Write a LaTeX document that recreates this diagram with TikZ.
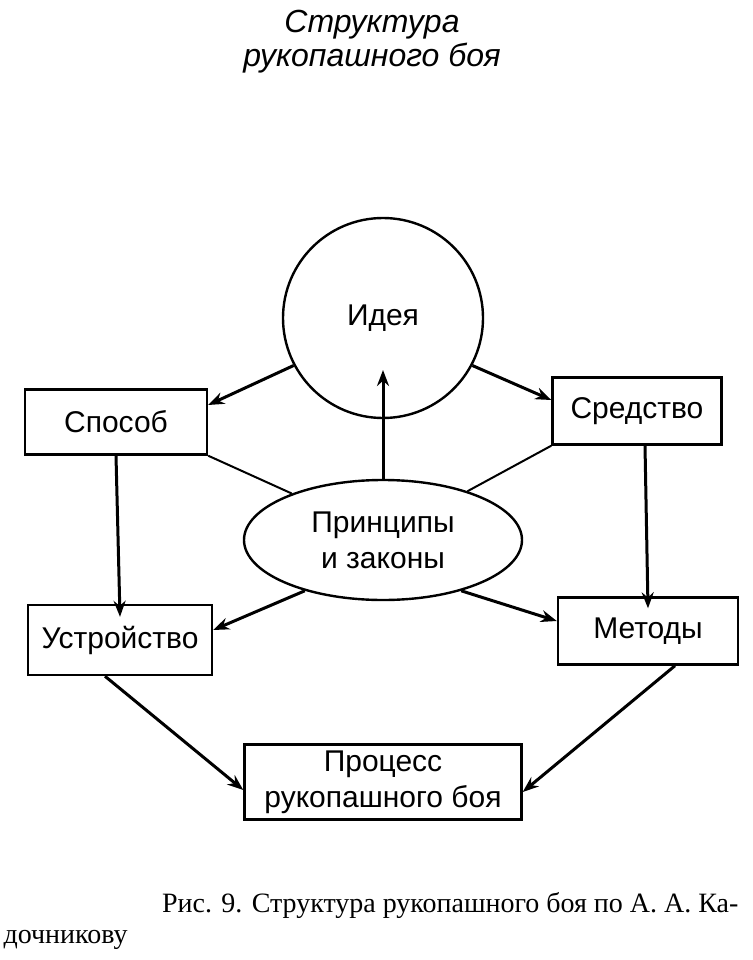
\documentclass[tikz,border=0pt]{standalone}
\usepackage{fontspec}
\setmainfont{Liberation Sans}
\newfontfamily\capfont{Liberation Serif}
\usetikzlibrary{shapes.geometric,arrows.meta}
\begin{document}
\begin{tikzpicture}[x=1pt,y=-1pt,
  bx/.style={draw,line width=2.4pt,inner sep=0pt,font=\fontsize{30}{36}\selectfont,align=center},
  ar/.style={line width=3pt,-{Stealth[length=16pt,width=12pt]}},
  ln/.style={line width=2pt}]
\useasboundingbox (0,0) rectangle (752,960);
\node[font=\itshape\fontsize{32}{34}\selectfont,align=center] (title) at (372,42) {Структура\\рукопашного боя};
\node[draw,circle,line width=2.4pt,minimum size=200pt,inner sep=0pt,font=\fontsize{30}{36}\selectfont] (idea) at (383,318) {Идея};
\node[draw,ellipse,line width=2.4pt,minimum width=278pt,minimum height=120pt,inner sep=0pt,font=\fontsize{30}{36}\selectfont,align=center] (pr) at (383,540) {Принципы\\и законы};
\node[bx,minimum width=182pt,minimum height=65pt] (sp) at (116,422) {Способ};
\node[bx,minimum width=169pt,minimum height=67pt] (sr) at (637,411) {Средство};
\node[bx,minimum width=184pt,minimum height=70pt] (us) at (120,640) {Устройство};
\node[bx,minimum width=180pt,minimum height=67pt] (me) at (648,631) {Методы};
\node[bx,minimum width=277pt,minimum height=75pt] (pc) at (383,782) {Процесс\\рукопашного боя};
\draw[ar] (idea.208) -- ([yshift=17pt]sp.east);
\draw[ar] (idea.332) -- ([yshift=11pt]sr.west);
\draw[ar] (pr.north) -- ([yshift=-52pt]idea.center);
\draw[ln] (sp.south east) -- (pr.153);
\draw[ln] (sr.south west) -- (pr.30);
\draw[ar] (pr.213) -- ([yshift=10pt]us.east);
\draw[ar] (pr.327) -- ([yshift=10pt]me.west);
\draw[ar] (sp.south) -- ([yshift=-13pt]us.north);
\draw[ar] ([xshift=8pt]sr.south) -- ([yshift=-12pt]me.north);
\draw[ar] ([xshift=-15pt]us.south) -- ([yshift=-8pt]pc.west);
\draw[ar] ([xshift=27pt]me.south) -- ([yshift=-10pt]pc.east);
\node[anchor=east,font=\capfont\fontsize{28}{32}\selectfont] (cap1) at (742,905) {Рис. 9. Структура рукопашного боя по А. А. Ка-};
\node[anchor=west,font=\capfont\fontsize{28}{32}\selectfont] (cap2) at (0,940) {дочникову};
\end{tikzpicture}
\end{document}
